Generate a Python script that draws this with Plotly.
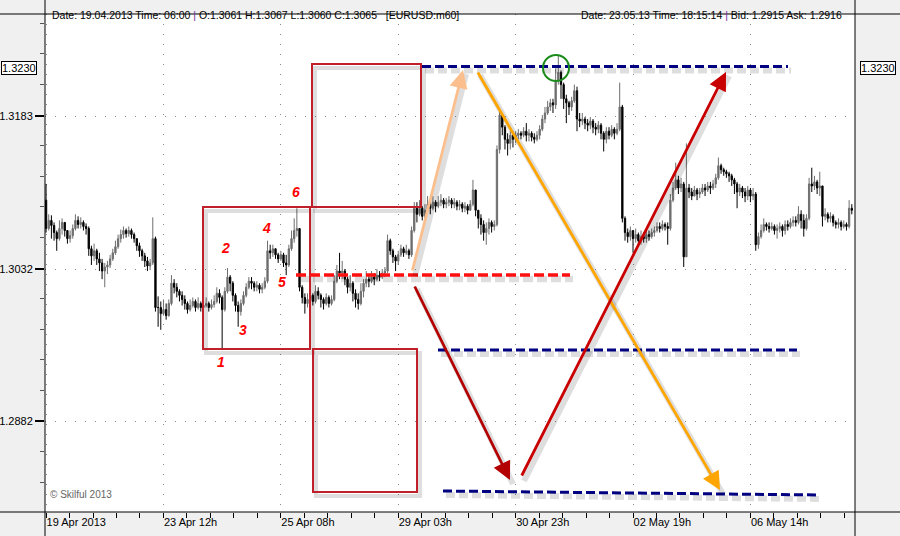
import plotly.graph_objects as go

# ---------------- data (EURUSD H1, prices in pips above 1.3000) ----------------
BASE = 1.3000
PIP = 0.0001

tick_index = [0, 44, 88, 132, 176, 220, 264]
tick_labels = ["19 Apr 2013", "23 Apr 12h", "25 Apr 08h", "29 Apr 03h",
               "30 Apr 23h", "02 May 19h", "06 May 14h"]
price_ticks = [1.2882, 1.3032, 1.3183]
level_price = 1.3230

first_open_pips = 100
close_pips = [
    72, 80, 75, 68, 62, 72, 78, 70, 62, 65, 72, 80, 76, 78, 74, 72, 52, 45, 50, 42,
    38, 30, 34, 36, 42, 48, 54, 62, 66, 70, 67, 70, 66, 62, 55, 50, 45, 40, 35, 38,
    62, -6, -6, -12, -8, -14, -2, 18, 14, 10, 6, 2, -2, -8, -4, 0, -6, -2, -6, -4,
    -2, -6, -3, 0, 8, 4, -8, 10, 24, 18, 6, -4, -10, -2, 6, 14, 20, 18, 14, 16,
    12, 14, 20, 50, 48, 52, 46, 42, 46, 38, 36, 52, 62, 70, 72, 14, 4, -2, 2, 6,
    0, 10, 6, 2, -2, 4, -2, 2, 20, 30, 28, 30, 22, 14, 18, 8, 2, -2, 10, 18,
    22, 20, 24, 22, 26, 24, 28, 30, 60, 50, 44, 40, 46, 52, 48, 50, 46, 70, 92, 86,
    92, 84, 90, 96, 92, 98, 94, 98, 100, 96, 98, 100, 96, 98, 94, 96, 92, 94, 90, 96,
    110, 90, 82, 76, 68, 72, 78, 74, 76, 150, 184, 172, 160, 156, 164, 160, 164, 166, 164, 168,
    164, 166, 162, 160, 164, 170, 180, 186, 192, 196, 194, 218, 226, 214, 200, 196, 192, 198, 208, 180,
    178, 180, 176, 174, 178, 172, 170, 174, 166, 160, 168, 164, 170, 166, 170, 192, 82, 68, 64, 70,
    62, 66, 60, 64, 62, 66, 64, 68, 70, 74, 72, 76, 74, 72, 100, 112, 120, 112, 116, 44,
    112, 108, 104, 110, 106, 108, 112, 110, 114, 112, 116, 122, 134, 130, 128, 126, 124, 120, 116, 108,
    112, 108, 104, 110, 104, 106, 56, 64, 70, 76, 74, 72, 74, 70, 72, 74, 70, 76, 74, 78,
    80, 78, 86, 80, 72, 82, 116, 114, 118, 112, 114, 84, 86, 82, 84, 78, 76, 78, 74, 76,
    74, 92, 90,
]
high_pips = [
    116, 86, 85, 78, 70, 80, 82, 78, 70, 70, 76, 86, 84, 83, 80, 77, 74, 55, 57, 52,
    48, 42, 38, 40, 46, 52, 60, 66, 71, 74, 72, 74, 72, 68, 62, 58, 52, 48, 44, 42,
    83, 64, 5, 0, 2, -2, 2, 26, 22, 18, 12, 10, 6, 0, 2, 4, 2, 4, 0, 2,
    4, 0, 2, 6, 14, 12, 6, 14, 33, 26, 20, 8, 0, 2, 10, 18, 24, 24, 20, 20,
    18, 18, 24, 60, 56, 56, 52, 48, 50, 48, 46, 56, 70, 82, 92, 72, 16, 8, 8, 10,
    8, 16, 14, 8, 4, 8, 6, 6, 26, 36, 48, 40, 32, 24, 26, 20, 12, 8, 18, 22,
    30, 26, 30, 28, 32, 30, 32, 34, 66, 62, 52, 46, 50, 56, 54, 56, 52, 74, 98, 98,
    100, 94, 96, 104, 98, 104, 100, 104, 106, 102, 102, 104, 102, 102, 100, 100, 98, 98, 96, 100,
    120, 110, 90, 86, 80, 78, 82, 80, 80, 154, 188, 186, 174, 166, 168, 168, 168, 170, 168, 172,
    176, 170, 168, 166, 168, 174, 184, 192, 198, 200, 200, 230, 243, 228, 216, 204, 198, 202, 214, 212,
    186, 186, 182, 180, 182, 180, 176, 178, 176, 168, 172, 172, 174, 172, 176, 216, 194, 84, 72, 74,
    70, 72, 68, 70, 68, 70, 70, 72, 74, 78, 78, 80, 78, 78, 106, 118, 137, 124, 122, 118,
    156, 116, 112, 114, 112, 112, 116, 116, 118, 118, 120, 126, 142, 136, 132, 130, 128, 126, 122, 118,
    116, 114, 112, 114, 112, 112, 108, 68, 76, 82, 78, 78, 78, 76, 76, 78, 76, 80, 80, 82,
    84, 84, 94, 90, 86, 86, 122, 132, 124, 120, 128, 114, 92, 88, 88, 86, 80, 82, 80, 80,
    78, 100, 96,
]
low_pips = [
    68, 70, 62, 60, 50, 60, 66, 64, 57, 58, 62, 70, 72, 72, 70, 66, 45, 36, 40, 36,
    30, 22, 14, 27, 33, 40, 46, 52, 58, 62, 63, 64, 62, 58, 50, 44, 40, 34, 30, 31,
    36, -10, -25, -28, -14, -18, -15, -4, 8, 4, 0, -4, -8, -12, -10, -6, -10, -8, -10, -8,
    -6, -10, -8, -6, -2, -2, -48, -10, 8, 10, 0, -10, -25, -14, -4, 4, 12, 12, 10, 10,
    8, 8, 12, 18, 42, 44, 42, 38, 40, 34, 26, 34, 50, 58, 64, 10, -2, -12, -6, -2,
    -4, -2, 2, -6, -8, -4, -6, -4, 0, 18, 22, 22, 16, 8, 10, 0, -6, -8, -4, 4,
    14, 14, 18, 16, 20, 20, 22, 24, 28, 46, 38, 30, 36, 44, 44, 46, 42, 44, 68, 78,
    84, 80, 82, 88, 86, 90, 88, 92, 94, 92, 92, 94, 92, 92, 90, 90, 88, 88, 86, 90,
    94, 84, 72, 66, 60, 56, 66, 68, 70, 74, 146, 164, 150, 144, 150, 152, 156, 160, 160, 162,
    158, 158, 158, 156, 158, 160, 168, 176, 184, 188, 186, 190, 214, 200, 190, 176, 184, 188, 196, 168,
    172, 174, 170, 168, 170, 166, 164, 166, 160, 148, 156, 160, 162, 160, 164, 168, 78, 60, 58, 60,
    48, 58, 54, 56, 58, 58, 60, 62, 64, 68, 68, 70, 70, 56, 70, 98, 110, 106, 108, 34,
    44, 102, 100, 104, 100, 102, 106, 104, 108, 106, 110, 112, 120, 126, 124, 122, 118, 114, 106, 92,
    104, 102, 98, 100, 98, 100, 50, 52, 62, 68, 70, 68, 70, 66, 62, 68, 64, 66, 70, 72,
    74, 74, 76, 72, 64, 70, 80, 108, 110, 106, 104, 74, 80, 78, 78, 74, 72, 72, 70, 72,
    70, 72, 86,
]

# ---------------- derived OHLC ----------------
def to_price(p):
    return round(BASE + p * PIP, 5)

bar_index = list(range(len(close_pips)))
open_pips = [first_open_pips] + close_pips[:-1]
opens = [to_price(v) for v in open_pips]
highs = [to_price(v) for v in high_pips]
lows = [to_price(v) for v in low_pips]
closes = [to_price(v) for v in close_pips]

# ---------------- geometry helpers (screen px -> data) ----------------
XMIN, XMAX = -0.4, 303.2
YTOP, YBOT = 1.32837, 1.27922
PL, PR, PT, PB = 45, 855, 14, 512


def bx(px):
    return XMIN + (px - PL) * (XMAX - XMIN) / (PR - PL)


def py(pyv):
    return YTOP - (pyv - PT) * (YTOP - YBOT) / (PB - PT)


def paper_x(px):
    return (px - PL) / (PR - PL)


def paper_y(pyv):
    return (PB - pyv) / (PB - PT)


FONT = "Liberation Sans, Arial, sans-serif"

fig = go.Figure()
fig.add_trace(go.Candlestick(
    x=bar_index, open=opens, high=highs, low=lows, close=closes,
    increasing=dict(line=dict(color="#6e6e6e", width=1), fillcolor="#6e6e6e"),
    decreasing=dict(line=dict(color="#000000", width=1), fillcolor="#000000"),
    hoverinfo="skip", showlegend=False,
))

shapes = []
SHADOW = "rgba(0,0,0,0.13)"


def line(x0, y0, x1, y1, color, width, dash="solid", shadow=True):
    if shadow:
        shapes.append(dict(type="line", xref="x", yref="y",
                           x0=bx(x0 + 3), y0=py(y0 + 4), x1=bx(x1 + 3), y1=py(y1 + 4),
                           line=dict(color=SHADOW, width=width + 3, dash=dash)))
    shapes.append(dict(type="line", xref="x", yref="y",
                       x0=bx(x0), y0=py(y0), x1=bx(x1), y1=py(y1),
                       line=dict(color=color, width=width, dash=dash)))


def rect(x0, y0, x1, y1, color):
    shapes.append(dict(type="rect", xref="x", yref="y",
                       x0=bx(x0 + 3), y0=py(y0 + 4), x1=bx(x1 + 3), y1=py(y1 + 4),
                       line=dict(color=SHADOW, width=4)))
    shapes.append(dict(type="rect", xref="x", yref="y",
                       x0=bx(x0), y0=py(y0), x1=bx(x1), y1=py(y1),
                       line=dict(color=color, width=2)))


RECT_RED = "#c0202a"
rect(203, 207, 310, 349, RECT_RED)
rect(312, 64, 421, 207, RECT_RED)
rect(313, 349, 417, 492, RECT_RED)

# horizontal dashed levels
line(296, 275, 570, 275, "#ff1010", 3.5, "10px,4px")
lvl_y = level_price + 2 * (YTOP - YBOT) / (PB - PT)
lvl_shadow = lvl_y - 4 * (YTOP - YBOT) / (PB - PT)
shapes.append(dict(type="line", xref="x", yref="y", x0=bx(425), x1=bx(791),
                   y0=lvl_shadow, y1=lvl_shadow,
                   line=dict(color=SHADOW, width=6, dash="9px,4px")))
shapes.append(dict(type="line", xref="x", yref="y", x0=bx(422), x1=bx(788),
                   y0=lvl_y, y1=lvl_y,
                   line=dict(color="#000080", width=3, dash="9px,4px")))
line(438, 350, 797, 350, "#000080", 3, "9px,4px")
line(443, 491, 820, 495, "#000080", 3, "9px,4px")

# arrow shadows
for (x0, y0, x1, y1) in [(412, 272, 463, 70), (477, 71, 720, 490),
                         (414, 285, 510, 480), (521, 477, 726, 72)]:
    shapes.append(dict(type="line", xref="x", yref="y",
                       x0=bx(x0 + 3), y0=py(y0 + 4), x1=bx(x1 + 3), y1=py(y1 + 4),
                       line=dict(color=SHADOW, width=6)))

# green circle at the top
shapes.append(dict(type="circle", xref="x", yref="y",
                   x0=bx(543), x1=bx(569), y0=py(81), y1=py(55),
                   line=dict(color="#1b8c1b", width=2)))

# frame lines (axis borders spanning full window)
BLACK = "#000000"
shapes.append(dict(type="line", xref="paper", yref="paper", x0=paper_x(0), x1=paper_x(900),
                   y0=1, y1=1, line=dict(color=BLACK, width=1)))
shapes.append(dict(type="line", xref="paper", yref="paper", x0=paper_x(0), x1=paper_x(900),
                   y0=0, y1=0, line=dict(color=BLACK, width=1)))
shapes.append(dict(type="line", xref="paper", yref="paper", x0=0, x1=0,
                   y0=paper_y(536), y1=paper_y(0), line=dict(color=BLACK, width=1)))
shapes.append(dict(type="line", xref="paper", yref="paper", x0=1, x1=1,
                   y0=paper_y(536), y1=paper_y(0), line=dict(color=BLACK, width=1)))

annotations = []


def arrow(x0, y0, x1, y1, color):
    annotations.append(dict(x=bx(x1), y=py(y1), ax=bx(x0), ay=py(y0),
                            xref="x", yref="y", axref="x", ayref="y",
                            text="", showarrow=True, arrowhead=2, arrowsize=1.3,
                            arrowwidth=2.8, arrowcolor=color, standoff=0))


arrow(412, 272, 463, 70, "#fbbf8e")
arrow(477, 71, 720, 490, "#ffa500")
arrow(414, 285, 510, 480, "#b30000")
arrow(521, 477, 726, 72, "#c80000")

# red wave numbers
for txt, (px, pyv) in zip(["1", "2", "3", "4", "5", "6"],
                          [(221, 362), (225, 248), (243, 330), (266, 228), (282, 282), (296, 192)]):
    annotations.append(dict(x=bx(px), y=py(pyv), xref="x", yref="y", text=f"<b><i>{txt}</i></b>",
                            showarrow=False, font=dict(family=FONT, size=14, color="#ff0000")))

# boxed price label of the top level on both sides
for xp, anchor, shift in [(0, "right", -8), (1, "left", 5)]:
    annotations.append(dict(x=xp, y=level_price, xref="paper", yref="y", text=f"{level_price:.4f}",
                            showarrow=False, xanchor=anchor, xshift=shift,
                            bordercolor="#000000", borderwidth=1, borderpad=0, bgcolor="#ffffff",
                            font=dict(family=FONT, size=11, color="#000000")))

# header info
HEAD_FONT = dict(family=FONT, size=10.5, color="#000000")
annotations.append(dict(x=paper_x(50), y=paper_y(7), xref="paper", yref="paper", xanchor="left",
                        showarrow=False,
                        text="Date: 19.04.2013 Time: 06:00 <span style='color:#7030a0'>|</span> "
                             "O:1.3061 H:1.3067 L:1.3060 C:1.3065   [EURUSD:m60]",
                        font=HEAD_FONT))
annotations.append(dict(x=paper_x(844), y=paper_y(7), xref="paper", yref="paper", xanchor="right",
                        showarrow=False,
                        text="Date: 23.05.13 Time: 18:15:14 <span style='color:#7030a0'>|</span> "
                             "Bid: 1.2915 Ask: 1.2916",
                        font=HEAD_FONT))
annotations.append(dict(x=paper_x(48), y=paper_y(502), xref="paper", yref="paper", xanchor="left",
                        showarrow=False, text="© Skilful 2013",
                        font=dict(family=FONT, size=10, color="#666666")))

ytext = [f"{v:.4f}" for v in price_ticks]
yaxis_common = dict(
    range=[YBOT, YTOP], tickmode="array", tickvals=price_ticks, ticktext=ytext,
    ticks="outside", ticklen=9, tickwidth=2, tickcolor="#000000",
    tickfont=dict(family=FONT, size=11, color="#000000"),
    zeroline=False, showline=False, fixedrange=True, automargin=False,
    minor=dict(tick0=1.2882, dtick=0.00302, ticks="outside", ticklen=4, tickwidth=1,
               tickcolor="#555555", showgrid=False),
)

fig.update_layout(
    template="none",
    width=900, height=536, autosize=False,
    margin=dict(l=PL, r=900 - PR, t=PT, b=536 - PB, pad=0, autoexpand=False),
    paper_bgcolor="#f0f0f0", plot_bgcolor="#ffffff",
    showlegend=False,
    xaxis=dict(
        range=[XMIN, XMAX], rangeslider=dict(visible=False), automargin=False,
        tickmode="array", tickvals=tick_index, ticktext=tick_labels,
        ticks="outside", ticklen=5, tickwidth=1, tickcolor="#000000",
        ticklabelposition="outside right",
        tickfont=dict(family=FONT, size=11, color="#000000"),
        showgrid=True, gridcolor="#8c8c8c", gridwidth=1, griddash="1px,9px",
        zeroline=False, showline=False,
        minor=dict(tick0=0, dtick=8.8, ticks="outside", ticklen=5, tickwidth=1,
                   tickcolor="#000000", showgrid=False),
    ),
    yaxis=dict(showgrid=True, gridcolor="#8c8c8c", gridwidth=1, griddash="1px,9px",
               **yaxis_common),
    yaxis2=dict(overlaying="y", side="right", showgrid=False, anchor="x", **yaxis_common),
    shapes=shapes,
    annotations=annotations,
)

fig.write_html(
    "out.html",
    config={"displayModeBar": False},
    post_script="document.body.style.margin='0';document.body.style.overflow='hidden';",
)
